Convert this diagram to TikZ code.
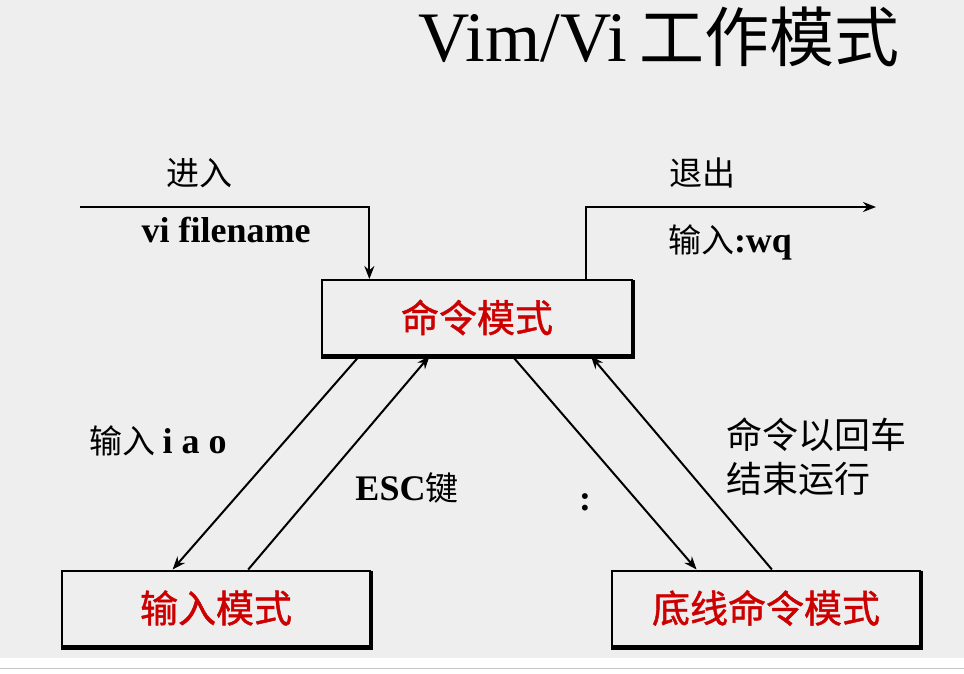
\documentclass[tikz,border=0pt]{standalone}
\usepackage{fontspec}
\setmainfont{Liberation Serif}
\newfontfamily\cjk{Noto Sans CJK SC}
\newfontfamily\cjkb[FakeBold=1.2]{Noto Sans CJK SC}
\usetikzlibrary{arrows.meta,calc}
\definecolor{bggray}{HTML}{EEEEEE}
\definecolor{modered}{HTML}{CC0000}
\begin{document}
\begin{tikzpicture}[x=1pt,y=-1pt,
  modebox/.style={draw=black,line width=2pt,fill=bggray,minimum height=75pt,inner sep=0pt,
    font=\cjkb\fontsize{38}{40}\selectfont,text=modered},
  conn/.style={line width=2pt,-{Stealth[length=13pt,width=10pt]}},
  lbl/.style={font=\cjk\fontsize{33}{40}\selectfont,text=black,inner sep=0pt},
  latin/.style={font=\bfseries\fontsize{36}{40}\selectfont,text=black,inner sep=0pt}]
\useasboundingbox (0,0) rectangle (964,674);
\fill[bggray] (0,0) rectangle (964,658);
\draw[gray!45,line width=1pt] (0,668) -- (964,668);
% title
\node[inner sep=0pt,anchor=center] (title) at (659,37) {\fontsize{71}{74}\selectfont Vim/Vi\,{\cjk\fontsize{65}{70}\selectfont 工作模式}};
% boxes
\node[modebox,minimum width=310pt] (cmd) at (477,317.5) {命令模式};
\node[modebox,minimum width=308pt] (ins) at (216,608) {输入模式};
\node[modebox,minimum width=308pt] (last) at (766,608) {底线命令模式};
\foreach \b in {cmd,ins,last}{
  \draw[line width=3.5pt] ($(\b.north east)+(0,1)$) -- ($(\b.south east)+(0,1.5)$) -- ($(\b.south west)+(0,1.5)$);
}
% entry / exit
\coordinate (inStart) at (80,207);
\coordinate (inBend) at ($(cmd.north west)!0.155!(cmd.north east)$);
\draw[conn] (inStart) -| (inBend);
\coordinate (outStart) at ($(cmd.north west)!0.848!(cmd.north east)$);
\coordinate (outEnd) at (876,207);
\draw[conn] (outStart) |- (outEnd);
% mode connectors
\draw[conn] ($(cmd.south west)!0.123!(cmd.south east)$) -- ($(ins.north west)!0.36!(ins.north east)$);
\draw[conn] ($(ins.north west)!0.604!(ins.north east)$) -- ($(cmd.south west)!0.348!(cmd.south east)$);
\draw[conn] ($(cmd.south west)!0.613!(cmd.south east)$) -- ($(last.north west)!0.276!(last.north east)$);
\draw[conn] ($(last.north west)!0.519!(last.north east)$) -- ($(cmd.south west)!0.865!(cmd.south east)$);
% labels
\node[lbl] (enter) at (199,173) {进入};
\node[latin] (vifile) at (226,230) {vi filename};
\node[lbl] (exit) at (702,173) {退出};
\node[lbl] (wq) at (730,242) {输入\textbf{\fontspec{Liberation Serif}\fontsize{36}{40}\selectfont:wq}};
\node[lbl] (iao) at (158,441) {输入 \textbf{\fontspec{Liberation Serif}\fontsize{36}{40}\selectfont i a o}};
\node[lbl] (esc) at (407,488) {\textbf{\fontspec{Liberation Serif}\fontsize{36}{40}\selectfont ESC}键};
\node[latin] (colon) at (585,502) {:};
\node[lbl,anchor=west,align=left,font=\cjk\fontsize{36}{44}\selectfont] (enterrun) at (726,457) {命令以回车\\结束运行};
\end{tikzpicture}
\end{document}
